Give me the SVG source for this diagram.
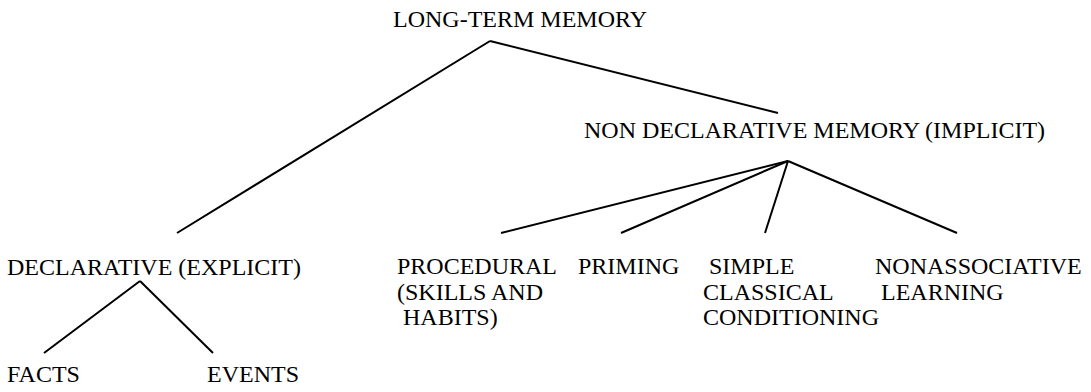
<svg xmlns="http://www.w3.org/2000/svg" width="1091" height="392" viewBox="0 0 1091 392">
<style>
text{font-family:"Liberation Serif","Times New Roman",serif;font-size:24px;fill:#000;white-space:pre}
line{stroke:#000;stroke-width:2;stroke-linecap:butt}
</style>
<rect width="1091" height="392" fill="#fff"/>
<g id="connectors">
<line x1="490" y1="41" x2="177" y2="233"/>
<line x1="490" y1="41" x2="778" y2="113"/>
<line x1="788" y1="161" x2="501" y2="233"/>
<line x1="788" y1="161" x2="621" y2="233"/>
<line x1="788" y1="161" x2="765" y2="233"/>
<line x1="788" y1="161" x2="957" y2="233"/>
<line x1="140" y1="281" x2="44" y2="353"/>
<line x1="140" y1="281" x2="213" y2="353"/>
</g>
<g id="ltm"><text x="393" y="27">LONG-TERM MEMORY</text></g>
<g id="nondecl"><text x="584" y="138">NON DECLARATIVE MEMORY (IMPLICIT)</text></g>
<g id="decl"><text x="7" y="275">DECLARATIVE (EXPLICIT)</text></g>
<g id="facts"><text x="7" y="382">FACTS</text></g>
<g id="events"><text x="207" y="382">EVENTS</text></g>
<g id="procedural"><text x="397" y="274">PROCEDURAL</text><text x="397" y="300">(SKILLS AND</text><text x="397" y="325"> HABITS)</text></g>
<g id="priming"><text x="578" y="274">PRIMING</text></g>
<g id="simple"><text x="703" y="274"> SIMPLE</text><text x="703" y="300">CLASSICAL</text><text x="703" y="325">CONDITIONING</text></g>
<g id="nonassoc"><text x="875" y="274">NONASSOCIATIVE</text><text x="875" y="300"> LEARNING</text></g>
</svg>
